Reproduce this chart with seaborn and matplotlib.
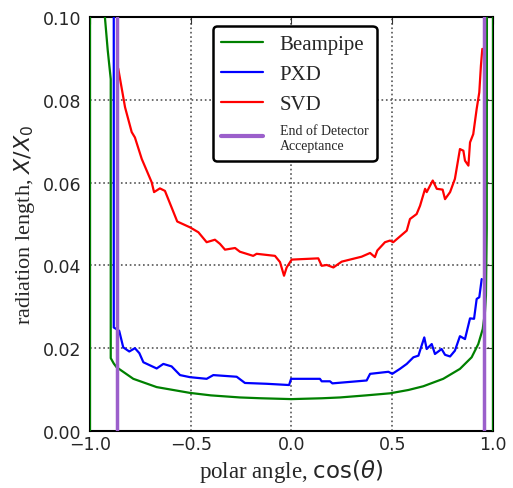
import matplotlib
matplotlib.use("Agg")
import matplotlib.pyplot as plt
import pandas as pd
import seaborn as sns

# material budget, x = cos(theta), y = X/X0
beampipe_x = [-1.0, -1.0, -0.945, -0.926, -0.912, -0.897, -0.897, -0.882, -0.868, -0.785,
              -0.669, -0.504, -0.40, -0.256, -0.15, 0.0, 0.15, 0.241, 0.37, 0.489, 0.58,
              0.654, 0.753, 0.836, 0.894, 0.927, 0.949, 0.960, 0.965, 0.969, 0.970, 1.0, 1.0]
beampipe_y = [0.0, 0.11, 0.11, 0.100, 0.092, 0.085, 0.0176, 0.0163, 0.0154, 0.0126,
              0.0106, 0.0092, 0.0086, 0.0081, 0.0079, 0.0077, 0.0079, 0.0081, 0.0086, 0.0091, 0.0099,
              0.0108, 0.0126, 0.0150, 0.0178, 0.0210, 0.0246, 0.0287, 0.0327, 0.049, 0.11, 0.11, 0.0]

pxd_x = [-0.882, -0.882, -0.855, -0.835, -0.805, -0.777, -0.755, -0.735, -0.669, -0.636,
         -0.595, -0.553, -0.504, -0.421, -0.388, -0.272, -0.231, -0.123, -0.012, -0.002,
         0.141, 0.150, 0.191, 0.203, 0.373, 0.390, 0.481, 0.500, 0.538, 0.572, 0.605, 0.630,
         0.643, 0.659, 0.671, 0.696, 0.712, 0.745, 0.762, 0.787, 0.811, 0.836, 0.861, 0.886,
         0.906, 0.919, 0.932, 0.944]
pxd_y = [0.11, 0.0250, 0.0242, 0.0202, 0.0192, 0.0200, 0.0188, 0.0166, 0.0151, 0.0162,
         0.0156, 0.0135, 0.0130, 0.0126, 0.0135, 0.0131, 0.0116, 0.0114, 0.0111, 0.0126,
         0.0126, 0.0120, 0.0120, 0.0115, 0.0122, 0.0138, 0.0143, 0.0138, 0.0150, 0.0162, 0.0178, 0.0182,
         0.0202, 0.0226, 0.0198, 0.0210, 0.0186, 0.0198, 0.0184, 0.0180, 0.0194, 0.0229, 0.0222, 0.0272,
         0.0271, 0.0319, 0.0323, 0.0367]

svd_x = [-0.860, -0.826, -0.793, -0.777, -0.743, -0.694, -0.682, -0.653, -0.628, -0.595,
         -0.567, -0.504, -0.462, -0.421, -0.380, -0.355, -0.330, -0.280, -0.256, -0.190,
         -0.173, -0.082, -0.057, -0.037, -0.024, 0.001, 0.133, 0.150, 0.175, 0.208, 0.249,
         0.290, 0.348, 0.390, 0.414, 0.426, 0.464, 0.489, 0.505, 0.572, 0.588, 0.621, 0.638,
         0.663, 0.671, 0.701, 0.721, 0.750, 0.762, 0.787, 0.811, 0.836, 0.853, 0.861, 0.878,
         0.886, 0.902, 0.919, 0.932, 0.940, 0.947]
svd_y = [0.0876, 0.0782, 0.0722, 0.0709, 0.0657, 0.0601, 0.0577, 0.0586, 0.0580, 0.0540,
         0.0506, 0.0492, 0.0480, 0.0456, 0.0462, 0.0452, 0.0438, 0.0442, 0.0433, 0.0423,
         0.0428, 0.0423, 0.0408, 0.0375, 0.0395, 0.0414, 0.0417, 0.0399, 0.0401, 0.0395, 0.0409,
         0.0414, 0.0421, 0.0430, 0.0420, 0.0436, 0.0456, 0.0460, 0.0456, 0.0484, 0.0512, 0.0524, 0.0544,
         0.0585, 0.0577, 0.0605, 0.0585, 0.0583, 0.0560, 0.0577, 0.0609, 0.0681, 0.0677, 0.0653, 0.0641,
         0.0697, 0.0717, 0.0778, 0.0818, 0.0882, 0.0923]

acceptance = [-0.866, 0.956]
x_ticks = [-1.0, -0.5, 0.0, 0.5, 1.0]
y_ticks = [0.0, 0.02, 0.04, 0.06, 0.08, 0.10]
x_ticklabels = ["\u22121.0", "\u22120.5", "0.0", "0.5", "1.0"]
y_ticklabels = ["0.00", "0.02", "0.04", "0.06", "0.08", "0.10"]


def radiation_length_plot():
    sns.set_style("white")
    plt.rcParams["font.family"] = ["DejaVu Sans"]
    fig, ax = plt.subplots(figsize=(5.13, 4.89), dpi=100)
    fig.subplots_adjust(left=0.1754, right=0.961, bottom=0.1166, top=0.9632)

    series = [("Beampipe", beampipe_x, beampipe_y, "#008000"),
              ("PXD", pxd_x, pxd_y, "#0000ff"),
              ("SVD", svd_x, svd_y, "#ff0000")]
    for name, xs, ys, color in series:
        df = pd.DataFrame({"x": xs, "y": ys})
        sns.lineplot(data=df, x="x", y="y", sort=False, estimator=None,
                     color=color, lw=1.6, label=name, ax=ax, zorder=3)
    for i, xv in enumerate(acceptance):
        ax.axvline(xv, color="#9b5fcb", lw=2.5, zorder=3.5,
                   label="End of Detector\nAcceptance" if i == 0 else None)

    ax.set_xlim(-1.0, 1.0)
    ax.set_ylim(0.0, 0.1)
    ax.set_xticks(x_ticks)
    ax.set_xticklabels(x_ticklabels)
    ax.set_yticks(y_ticks)
    ax.set_yticklabels(y_ticklabels)
    ax.tick_params(direction="in", top=True, right=True, length=5, width=0.8,
                   labelsize=12.5, color="#333333")
    ax.tick_params(axis="x", pad=3)
    ax.tick_params(axis="y", pad=6)
    ax.grid(True, linestyle=":", color="#555555", lw=1.2)
    for sp in ax.spines.values():
        sp.set_color("black")
        sp.set_linewidth(1.5)

    ax.set_xlabel(r"polar angle, $\cos(\theta)$", family="Liberation Serif", fontsize=16.5,
                  labelpad=3)
    ax.set_ylabel(r"radiation length, $X/X_0$", family="Liberation Serif", fontsize=16)

    leg = ax.legend(loc="upper left", bbox_to_anchor=(0.305, 0.978), borderaxespad=0,
                    fancybox=True, framealpha=1, edgecolor="black", handlelength=2.0,
                    prop={"family": "Liberation Serif", "size": 15})
    leg.get_frame().set_linewidth(1.8)
    leg.get_texts()[3].set_fontsize(10)
    leg.get_lines()[3].set_linewidth(3)

    fig.savefig("out.png", dpi=100)
    plt.close("all")


if __name__ == "__main__":
    radiation_length_plot()
